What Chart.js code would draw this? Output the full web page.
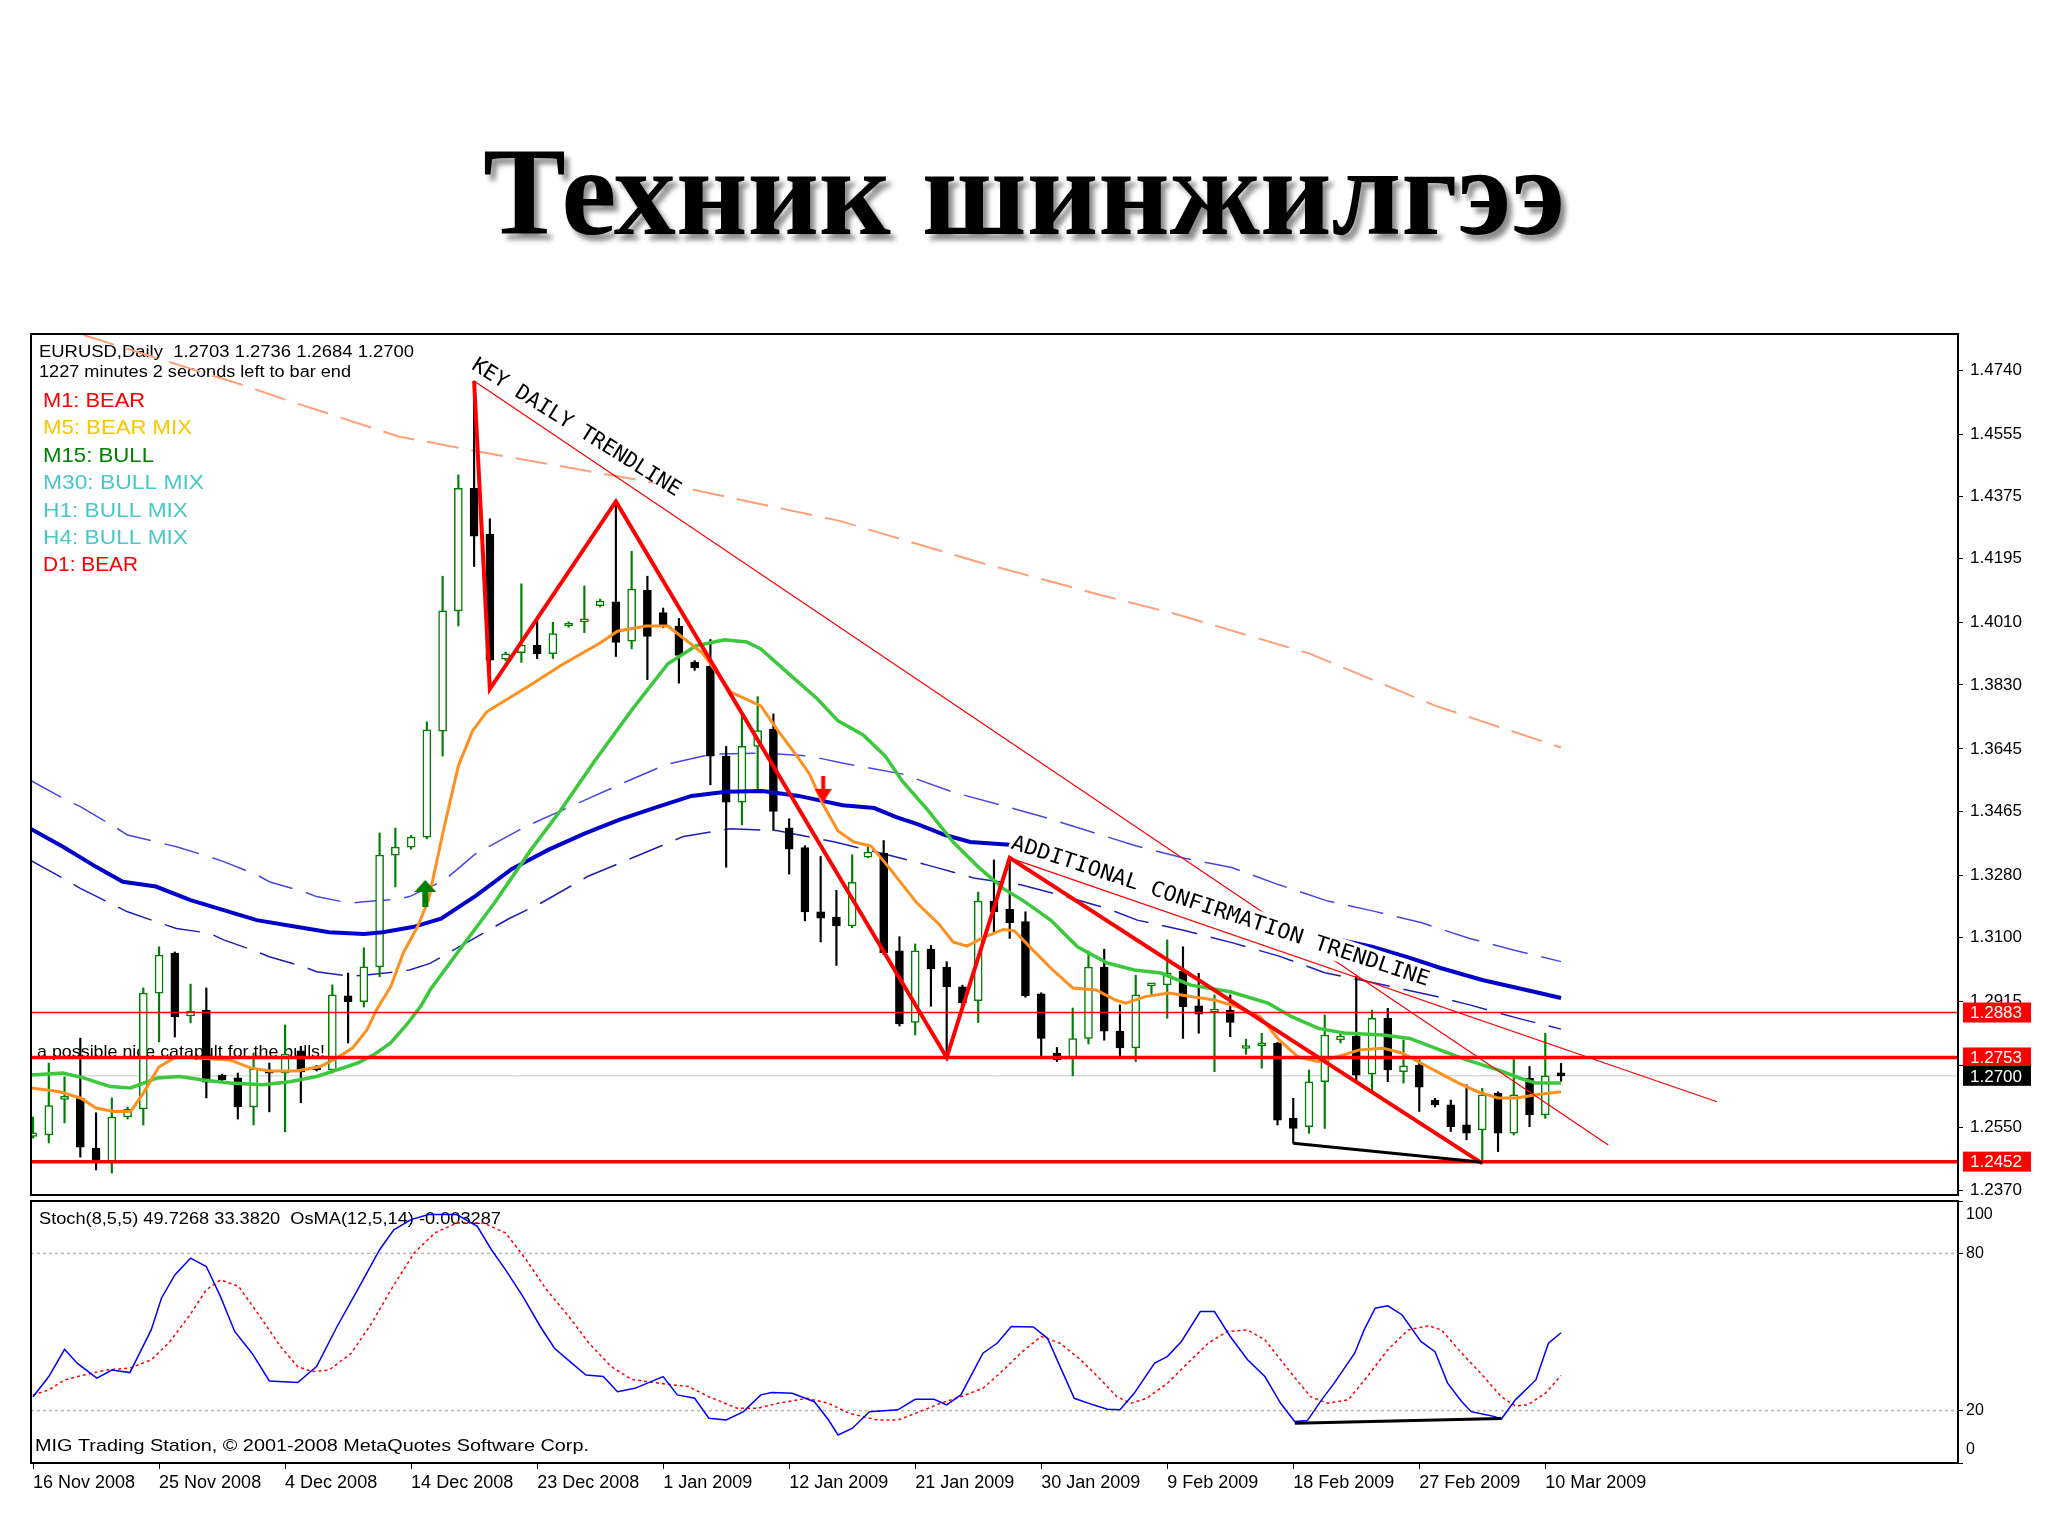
<!DOCTYPE html>
<html>
<head>
<meta charset="utf-8">
<title>Техник шинжилгээ</title>
<script src="https://cdn.jsdelivr.net/npm/chart.js"></script>
<style>
  html, body { margin: 0; padding: 0; background: #fff; }
  body { position: relative; width: 2048px; height: 1536px; overflow: hidden; }
  canvas { position: absolute; left: 0; top: 0; }
  #title {
    position: absolute; left: 483px; top: 130px;
    font: bold 125px "Liberation Serif", "Times New Roman", serif;
    line-height: 125px; white-space: nowrap; color: #000;
    transform-origin: 0 0;
    text-shadow: 5px 6px 5px rgba(0, 0, 0, 0.45);
  }
</style>
</head>
<body>
<div id="title">Техник шинжилгээ</div>
<canvas id="mainChart" width="2048" height="1536"></canvas>
<canvas id="stochChart" width="2048" height="1536"></canvas>
<script>
// ---- axis ticks ----
const priceTicks = [1.4740, 1.4555, 1.4375, 1.4195, 1.4010, 1.3830, 1.3645, 1.3465, 1.3280, 1.3100, 1.2915, 1.2730, 1.2550, 1.2370];
const dateTicks = [0, 8, 16, 24, 32, 40, 48, 56, 64, 72, 80, 88, 96];
const dateLabels = ['16 Nov 2008', '25 Nov 2008', '4 Dec 2008', '14 Dec 2008', '23 Dec 2008', '1 Jan 2009',
    '12 Jan 2009', '21 Jan 2009', '30 Jan 2009', '9 Feb 2009', '18 Feb 2009', '27 Feb 2009', '10 Mar 2009'];
const stochTicks = [0, 20, 80, 100];

// ---- EURUSD daily candles (bar 0 .. 97) ----
const open = [1.2525, 1.2529, 1.2632, 1.2636, 1.2491, 1.2451, 1.2581, 1.2604, 1.2939, 1.3055,
    1.2873, 1.2890, 1.2702, 1.2694, 1.2610, 1.2714, 1.2708, 1.2772, 1.2726, 1.2717,
    1.2931, 1.2914, 1.3015, 1.3338, 1.3361, 1.3390, 1.3696, 1.4044, 1.4398, 1.4266,
    1.3904, 1.3923, 1.3945, 1.3920, 1.4000, 1.4012, 1.4059, 1.4070, 1.3956, 1.4103,
    1.4039, 1.4000, 1.3895, 1.3884, 1.3624, 1.3491, 1.3652, 1.3702, 1.3417, 1.3360,
    1.3174, 1.3159, 1.3133, 1.3332, 1.3344, 1.3061, 1.2854, 1.3066, 1.3014, 1.2957,
    1.2917, 1.3205, 1.3181, 1.3146, 1.2937, 1.2766, 1.2751, 1.2808, 1.3014, 1.2829,
    1.2781, 1.2960, 1.2963, 1.3002, 1.2902, 1.2884, 1.2890, 1.2779, 1.2787, 1.2794,
    1.2577, 1.2553, 1.2683, 1.2804, 1.2815, 1.2705, 1.2866, 1.2712, 1.2731, 1.2629,
    1.2616, 1.2558, 1.2544, 1.2650, 1.2534, 1.2693, 1.2587, 1.2703];
const high = [1.2581, 1.2737, 1.2697, 1.2809, 1.2593, 1.2636, 1.2610, 1.2954, 1.3073, 1.3058,
    1.2965, 1.2954, 1.2705, 1.2708, 1.2766, 1.2737, 1.2847, 1.2785, 1.2730, 1.2963,
    1.2997, 1.3070, 1.3402, 1.3416, 1.3395, 1.3723, 1.4144, 1.4437, 1.4708, 1.4310,
    1.3925, 1.4122, 1.4017, 1.4011, 1.4012, 1.4116, 1.4078, 1.4360, 1.4216, 1.4144,
    1.4052, 1.4022, 1.3900, 1.3961, 1.3652, 1.3740, 1.3796, 1.3746, 1.3443, 1.3365,
    1.3334, 1.3236, 1.3339, 1.3365, 1.3380, 1.3102, 1.3081, 1.3077, 1.3030, 1.2962,
    1.3231, 1.3324, 1.3330, 1.3174, 1.2940, 1.2782, 1.2896, 1.3061, 1.3066, 1.2905,
    1.2991, 1.2967, 1.3093, 1.3073, 1.2996, 1.2934, 1.2934, 1.2806, 1.2823, 1.2797,
    1.2635, 1.2717, 1.2876, 1.2820, 1.2987, 1.2890, 1.2895, 1.2804, 1.2746, 1.2635,
    1.2630, 1.2674, 1.2664, 1.2654, 1.2749, 1.2727, 1.2823, 1.2736];
const low = [1.2520, 1.2506, 1.2564, 1.2465, 1.2428, 1.2419, 1.2575, 1.2558, 1.2798, 1.2812,
    1.2853, 1.2636, 1.2685, 1.2575, 1.2558, 1.2596, 1.2538, 1.2622, 1.2714, 1.2708,
    1.2795, 1.2899, 1.2986, 1.3246, 1.3355, 1.3385, 1.3624, 1.4000, 1.4172, 1.3818,
    1.3900, 1.3895, 1.3906, 1.3906, 1.3997, 1.3981, 1.4055, 1.3912, 1.3934, 1.3845,
    1.3995, 1.3835, 1.3872, 1.3541, 1.3303, 1.3425, 1.3530, 1.3409, 1.3283, 1.3148,
    1.3087, 1.3019, 1.3128, 1.3330, 1.3050, 1.2844, 1.2818, 1.2901, 1.2756, 1.2906,
    1.2854, 1.3112, 1.3097, 1.2927, 1.2751, 1.2741, 1.2700, 1.2792, 1.2803, 1.2752,
    1.2741, 1.2935, 1.2866, 1.2808, 1.2823, 1.2712, 1.2813, 1.2762, 1.2722, 1.2558,
    1.2505, 1.2534, 1.2548, 1.2795, 1.2683, 1.2654, 1.2683, 1.2679, 1.2597, 1.2610,
    1.2539, 1.2515, 1.2447, 1.2481, 1.2529, 1.2553, 1.2577, 1.2684];
const close = [1.2535, 1.2614, 1.2638, 1.2494, 1.2451, 1.2581, 1.2604, 1.2939, 1.3049, 1.2870,
    1.2887, 1.2682, 1.2688, 1.2610, 1.2720, 1.2708, 1.2763, 1.2711, 1.2717, 1.2934,
    1.2914, 1.3015, 1.3338, 1.3361, 1.3390, 1.3700, 1.4044, 1.4398, 1.4260, 1.3901,
    1.3920, 1.3945, 1.3920, 1.3978, 1.4008, 1.4018, 1.4072, 1.3953, 1.4107, 1.3970,
    1.4000, 1.3915, 1.3879, 1.3624, 1.3491, 1.3652, 1.3698, 1.3464, 1.3355, 1.3174,
    1.3156, 1.3133, 1.3259, 1.3347, 1.3055, 1.2850, 1.3061, 1.3009, 1.2957, 1.2911,
    1.3205, 1.3174, 1.3143, 1.2931, 1.2808, 1.2746, 1.2808, 1.3014, 1.2829, 1.2781,
    1.2934, 1.2966, 1.2998, 1.2900, 1.2878, 1.2888, 1.2854, 1.2783, 1.2791, 1.2572,
    1.2548, 1.2683, 1.2818, 1.2815, 1.2702, 1.2866, 1.2717, 1.2729, 1.2667, 1.2616,
    1.2553, 1.2534, 1.2645, 1.2534, 1.2645, 1.2587, 1.2700, 1.2700];

// ---- indicator lines: [bar, price] ----
const maOrange = [[-0.2, 1.2665], [1.7, 1.2654], [3, 1.2636], [4, 1.2607], [5.1, 1.2597], [6.2, 1.2597], [7, 1.2650],
    [8, 1.2726], [9.1, 1.2755], [12.5, 1.2746], [13.8, 1.2723], [15, 1.2714], [16.7, 1.2714], [18.2, 1.2726],
    [19.3, 1.2752], [20.3, 1.2781], [21.2, 1.2833], [21.8, 1.2890], [22.7, 1.2957], [23.5, 1.3055], [24.4, 1.3130],
    [25.1, 1.3208], [26.1, 1.3419], [27, 1.3596], [27.9, 1.3697], [28.8, 1.3752], [31.6, 1.3830], [33.5, 1.3886],
    [36, 1.3951], [37.1, 1.3985], [38.9, 1.4000], [40.3, 1.4000], [42.5, 1.3922], [44.3, 1.3809], [46.2, 1.3769],
    [47.3, 1.3697], [48.5, 1.3624], [49.3, 1.3572], [50.2, 1.3480], [51.1, 1.3408], [52.1, 1.3376], [53.2, 1.3364],
    [54.3, 1.3304], [55.2, 1.3252], [56.1, 1.3200], [57.5, 1.3139], [58.4, 1.3087], [59.3, 1.3075], [60.2, 1.3097],
    [61.6, 1.3123], [62.3, 1.3119], [63.4, 1.3067], [64.8, 1.3003], [66, 1.2954], [67.5, 1.2948], [68.7, 1.2919],
    [69.4, 1.2910], [70.6, 1.2929], [72.1, 1.2939], [73.5, 1.2929], [75, 1.2919], [76.4, 1.2900], [77.9, 1.2871],
    [79.1, 1.2804], [80.3, 1.2755], [81.6, 1.2741], [82.8, 1.2755], [84.2, 1.2775], [85.7, 1.2780], [86.9, 1.2766],
    [88.1, 1.2737], [89.3, 1.2708], [90.5, 1.2679], [91.7, 1.2654], [93, 1.2636], [94.2, 1.2636], [95.4, 1.2645],
    [97, 1.2654]];
const maGreen = [[-0.2, 1.2702], [1.9, 1.2708], [3.2, 1.2694], [4.9, 1.2669], [6.2, 1.2665], [7.9, 1.2694],
    [9.3, 1.2698], [10.8, 1.2688], [12.5, 1.2679], [14.6, 1.2674], [16.3, 1.2683], [18, 1.2698], [19.3, 1.2717],
    [20.6, 1.2737], [21.6, 1.2760], [22.7, 1.2795], [23.7, 1.2847], [24.6, 1.2900], [25.2, 1.2948], [26.6, 1.3035],
    [29.3, 1.3200], [31.6, 1.3353], [33.5, 1.3468], [35.7, 1.3613], [38, 1.3757], [40.3, 1.3891], [42.1, 1.3943],
    [43.9, 1.3960], [45.3, 1.3954], [46.2, 1.3934], [48, 1.3861], [49.8, 1.3789], [51.1, 1.3726], [52.7, 1.3685],
    [54.1, 1.3624], [55.2, 1.3551], [56.8, 1.3468], [58.4, 1.3376], [60, 1.3304], [61.6, 1.3241], [62.9, 1.3205],
    [64.6, 1.3150], [66.3, 1.3073], [68.2, 1.3026], [69.9, 1.3006], [71.6, 1.2997], [73.5, 1.2962], [76, 1.2943],
    [78.4, 1.2910], [79.9, 1.2871], [81.6, 1.2837], [83.2, 1.2824], [85.7, 1.2818], [87.4, 1.2808], [89.3, 1.2775],
    [91, 1.2746], [93, 1.2717], [94.4, 1.2693], [95.4, 1.2679], [97, 1.2679]];
const maBlue = [[-0.2, 1.3415], [1.9, 1.3362], [4, 1.3304], [5.7, 1.3261], [7.8, 1.3247], [10, 1.3208],
    [12.1, 1.3179], [14.2, 1.3150], [16.7, 1.3131], [18.8, 1.3115], [21, 1.3110], [22.2, 1.3115], [24.1, 1.3130],
    [25.9, 1.3154], [28.1, 1.3220], [30.4, 1.3298], [32.7, 1.3353], [35, 1.3400], [37.2, 1.3440], [39.5, 1.3475],
    [41.8, 1.3509], [44, 1.3521], [46.3, 1.3523], [48.6, 1.3509], [51.4, 1.3482], [53.4, 1.3474], [54.8, 1.3448],
    [56.1, 1.3428], [57.9, 1.3396], [59.5, 1.3376], [62, 1.3368], [64, 1.3343], [67, 1.3290], [70, 1.3258],
    [73, 1.3225], [76, 1.3194], [79, 1.3149], [82, 1.3102], [85, 1.3073], [87.2, 1.3044], [89.4, 1.3011],
    [92, 1.2977], [94.8, 1.2948], [97, 1.2925]];
const envUpper = [[-0.2, 1.3555], [2.1, 1.3497], [3, 1.3478], [5.1, 1.3422], [6, 1.3396], [8.1, 1.3373],
    [9.1, 1.3362], [11.2, 1.3333], [12.1, 1.3319], [14.2, 1.3281], [15, 1.3261], [17.2, 1.3232], [18, 1.3218],
    [20.1, 1.3199], [21, 1.3203], [23.1, 1.3210], [23.9, 1.3218], [26.1, 1.3265], [28.1, 1.3342], [31.2, 1.3419],
    [34.2, 1.3480], [37.2, 1.3541], [40.2, 1.3600], [43.1, 1.3630], [46.3, 1.3633], [49.3, 1.3624], [51.6, 1.3602],
    [55.2, 1.3572], [58.4, 1.3520], [61.3, 1.3484], [64.1, 1.3449], [67.1, 1.3406], [70, 1.3365], [73.1, 1.3329],
    [76.1, 1.3302], [79.1, 1.3252], [82.2, 1.3205], [85.1, 1.3176], [88.1, 1.3143], [91.2, 1.3097], [94.1, 1.3062],
    [97, 1.3030]];
const envLower = [[-0.2, 1.3324], [2.1, 1.3266], [3, 1.3242], [5.1, 1.3194], [6, 1.3174], [8.1, 1.3141],
    [9.1, 1.3126], [11.2, 1.3112], [12.1, 1.3093], [14.2, 1.3059], [15, 1.3044], [17.2, 1.3015], [18, 1.3001],
    [20.1, 1.2988], [21, 1.2991], [23.1, 1.3001], [23.9, 1.3006], [25.2, 1.3025], [30.2, 1.3154], [32.2, 1.3198],
    [35.2, 1.3276], [38.1, 1.3331], [41.3, 1.3392], [44.3, 1.3414], [47.2, 1.3409], [50.9, 1.3376], [53.8, 1.3344],
    [56.8, 1.3309], [59.7, 1.3272], [62.7, 1.3252], [65.7, 1.3216], [68.1, 1.3185], [70.1, 1.3150], [73.1, 1.3120],
    [76.1, 1.3085], [79.1, 1.3046], [82, 1.2998], [85.1, 1.2969], [89.1, 1.2929], [91.2, 1.2905], [94.3, 1.2866],
    [97, 1.2835]];
const maSlow = [[3.2, 1.4841], [13.7, 1.4691], [15.7, 1.4659], [23.2, 1.4548], [28.4, 1.4503], [35.2, 1.4448],
    [42, 1.4393], [51.2, 1.4304], [60, 1.4185], [68, 1.4087], [72.6, 1.4034], [81, 1.3921], [89, 1.3770],
    [97, 1.3649]];

// ---- drawn objects ----
const zigzag = [[28, 1.4708], [29, 1.3818], [37, 1.4360], [58, 1.2753], [62, 1.3330], [92, 1.2447]];
const keyTrend = [[28, 1.4708], [100, 1.2500]];
const confirmTrend = [[62, 1.3330], [106.9, 1.2625]];
const priceDivergence = [[80, 1.2505], [92, 1.2450]];
const levelThin = [1.2883];
const levelThick = [1.2753, 1.2452];
const lastPrice = 1.2700;
const buyArrow = [[24.9, 1.3227]];
const sellArrow = [[50.16, 1.3528]];
const signalText = ['M1: BEAR', 'M5: BEAR MIX', 'M15: BULL', 'M30: BULL MIX', 'H1: BULL MIX', 'H4: BULL MIX', 'D1: BEAR'];

// ---- Stoch(8,5,5): [bar, value] ----
const stochK = [[0, 25.3], [1, 33.0], [2, 43.4], [2.8, 38.1], [4.05, 32.4], [5, 35.5], [6.15, 34.5], [7.5, 50.8],
    [8.15, 62.9], [9, 71.8], [10, 78.2], [11, 75.0], [11.9, 63.5], [12.8, 50.2], [13.9, 41.9], [15, 31.3],
    [16.8, 30.7], [18, 36.8], [19.3, 52.1], [20.6, 66.1], [22, 81.4], [22.9, 89.0], [24, 92.9], [25.1, 94.8],
    [26.9, 94.8], [28.2, 90.3], [29.1, 81.4], [30, 73.7], [31.1, 63.5], [32.2, 52.1], [33.1, 43.8], [34.2, 38.1],
    [35.1, 33.6], [36.2, 33.0], [37.1, 27.2], [38.2, 28.5], [40, 33.0], [40.9, 26.0], [42, 24.7], [42.9, 17.1],
    [44, 16.4], [45.1, 19.6], [46.2, 26.0], [46.9, 26.9], [48.2, 26.6], [49.6, 23.4], [50.5, 16.4], [51.1, 10.7],
    [52, 13.2], [53.1, 19.6], [54.9, 20.3], [56, 24.3], [57.2, 24.3], [58, 22.2], [58.9, 26.0], [60.3, 41.9],
    [61.2, 45.7], [62.1, 52.1], [63.5, 51.9], [64.4, 47.6], [65.2, 36.8], [66.1, 24.7], [67.3, 22.2], [68.2, 20.5],
    [69, 20.3], [69.9, 26.6], [71.2, 38.1], [72, 40.6], [72.9, 46.4], [74.1, 57.8], [75, 57.8], [76, 48.3],
    [77.1, 39.4], [78.2, 33.0], [79.2, 22.8], [80.1, 15.8], [80.9, 16.2], [81.8, 24.1], [82.6, 30.5], [83.9, 41.9],
    [84.5, 50.8], [85.2, 59.1], [86, 60.0], [86.9, 56.6], [88.1, 46.4], [89, 42.5], [89.8, 30.5], [90.7, 23.4],
    [91.3, 19.6], [92, 18.7], [92.8, 17.7], [93.2, 16.7], [94.1, 24.1], [95.4, 31.7], [96.2, 45.7], [97, 49.7]];
const stochD = [[0, 26.0], [1, 27.9], [2, 31.7], [3.25, 33.6], [4.6, 35.5], [6.15, 36.2], [7.5, 39.4], [8.6, 45.7],
    [9.9, 56.0], [11, 66.1], [11.9, 69.9], [13.05, 67.4], [14.4, 56.0], [15.7, 44.5], [16.8, 36.8], [17.7, 34.9],
    [18.8, 35.5], [20.2, 41.9], [21.5, 53.4], [22.85, 67.4], [24.2, 80.2], [25.5, 87.8], [26.9, 91.6], [28.6, 91.6],
    [30, 87.8], [31.3, 77.6], [32.6, 66.1], [34, 56.0], [35.3, 45.7], [36.7, 36.8], [38, 31.9], [39.8, 30.4],
    [41.6, 29.2], [42.9, 25.3], [44.7, 20.9], [46, 20.9], [47.3, 22.8], [49.1, 24.7], [50.5, 22.8], [51.8, 19.0],
    [53.6, 16.4], [54.9, 16.4], [56.3, 19.6], [57.6, 22.8], [58.9, 25.3], [60.3, 28.5], [61.6, 35.5], [62.8, 42.5],
    [64, 48.3], [65.2, 45.7], [66.5, 39.4], [67.8, 31.7], [68.8, 25.3], [69.7, 22.8], [70.7, 24.7], [72, 30.4],
    [73.3, 38.1], [74.6, 45.7], [75.8, 50.2], [77.1, 50.8], [78.2, 47.0], [79.2, 39.4], [80.3, 31.1], [81.1, 25.3],
    [82.2, 22.8], [83.5, 24.1], [84.7, 33.0], [86, 43.2], [87.3, 50.8], [88.6, 52.4], [89.4, 50.8], [90.7, 41.9],
    [92, 33.6], [93.2, 25.3], [94.1, 21.8], [94.9, 22.2], [96, 26.6], [97, 33.4]];
const stochDivergence = [[80.1, 15.2], [93.2, 17.0]];
const stochLevels = [20, 80];

// ---- scale ranges (bar slots and price window of the panel) ----
const X_MIN = -0.13, X_MAX = 122.2;
const P_MIN = 1.235555, P_MAX = 1.484405;

Chart.defaults.font.family = '"Liberation Sans", Arial, sans-serif';
Chart.defaults.color = '#000';

const title = document.getElementById('title');
title.style.transform = 'scaleX(' + (1082 / title.getBoundingClientRect().width) + ')';

const pts = arr => arr.map(([x, y]) => ({ x, y }));
const across = v => [{ x: X_MIN, y: v }, { x: X_MAX, y: v }];

function line(data, color, width, order, dash) {
    return {
        type: 'line', data, borderColor: color, borderWidth: width, borderDash: dash || [],
        pointRadius: 0, tension: 0, fill: false, order
    };
}

// draw text squeezed/stretched to the width it has in the screenshot
function fitText(ctx, text, x, y, width, font, color, angle, boxH) {
    ctx.save();
    ctx.font = font;
    const w = ctx.measureText(text).width;
    ctx.translate(x, y);
    if (angle) {
        ctx.rotate(angle * Math.PI / 180);
        ctx.textBaseline = 'top';
    }
    if (boxH) {
        // MT4 text objects sit on a white box that hides the lines below them
        ctx.fillStyle = '#fff';
        ctx.fillRect(-2, -3, width + 4, boxH);
    }
    ctx.scale(width / w, 1);
    ctx.fillStyle = color;
    ctx.fillText(text, 0, 0);
    ctx.restore();
}

function makeArrow(color, up, w, head, shaft) {
    const c = document.createElement('canvas');
    c.width = w; c.height = 27;
    const g = c.getContext('2d');
    const m = w / 2, s = shaft / 2;
    g.fillStyle = color;
    g.beginPath();
    if (up) {
        g.moveTo(m, 0); g.lineTo(w, head); g.lineTo(m + s, head); g.lineTo(m + s, 27);
        g.lineTo(m - s, 27); g.lineTo(m - s, head); g.lineTo(0, head);
    } else {
        g.moveTo(m, 27); g.lineTo(w, 27 - head); g.lineTo(m + s, 27 - head); g.lineTo(m + s, 0);
        g.lineTo(m - s, 0); g.lineTo(m - s, 27 - head); g.lineTo(0, 27 - head);
    }
    g.closePath();
    g.fill();
    return c;
}

const isBull = close.map((c, i) => c >= open[i]);
const bodyData = open.map((o, i) => ({ x: i, y: [o, close[i]] }));
const wickData = low.map((l, i) => ({ x: i, y: [l, high[i]] }));

const mainNotes = {
    id: 'mainNotes',
    beforeDatasetsDraw(chart) {
        const ctx = chart.ctx;
        fitText(ctx, 'EURUSD,Daily  1.2703 1.2736 1.2684 1.2700', 39, 357, 375, '16px "Liberation Sans"', '#000');
        fitText(ctx, '1227 minutes 2 seconds left to bar end', 39, 377, 312, '16px "Liberation Sans"', '#000');
        const colors = ['#ff0000', '#f5c800', '#008000', '#48c8c8', '#48c8c8', '#48c8c8', '#ff0000'];
        const widths = [102, 149, 111, 161, 145, 145, 95];
        signalText.forEach((t, k) => fitText(ctx, t, 43, 407 + k * 27.4, widths[k], '21px "Liberation Sans"', colors[k]));
        fitText(ctx, 'a possible nice catapult for the bulls!', 37, 1057, 288, '17px "Liberation Sans"', '#000');
    },
    afterDatasetsDraw(chart) {
        const { ctx, scales: { x, y } } = chart;
        fitText(ctx, 'KEY DAILY TRENDLINE', x.getPixelForValue(28.31), y.getPixelForValue(1.47834),
            242, '21px "DejaVu Sans Mono"', '#000', 32, 19);
        fitText(ctx, 'ADDITIONAL CONFIRMATION TRENDLINE', x.getPixelForValue(62.34), y.getPixelForValue(1.34018),
            439, '21px "DejaVu Sans Mono"', '#000', 18.3, 24);
    },
    afterDraw(chart) {
        const { ctx, chartArea: a, scales: { y } } = chart;
        ctx.save();
        ctx.strokeStyle = '#000';
        ctx.lineWidth = 2;
        ctx.strokeRect(a.left, a.top, a.right - a.left, a.bottom - a.top);
        ctx.font = '17px "Liberation Sans"';
        ctx.textBaseline = 'middle';
        const boxes = [[levelThin[0], '#ff0000'], [levelThick[0], '#ff0000'], [lastPrice, '#000000'], [levelThick[1], '#ff0000']];
        boxes.forEach(([v, bg]) => {
            const py = y.getPixelForValue(v);
            ctx.fillStyle = bg;
            ctx.fillRect(a.right + 5, py - 10, 68, 20);
            ctx.fillStyle = '#fff';
            ctx.fillText(v.toFixed(4), a.right + 12, py + 1);
        });
        ctx.restore();
    }
};

new Chart(document.getElementById('mainChart'), {
    type: 'bar',
    data: {
        datasets: [
            line(pts(maSlow), '#ffa07a', 2, 30, [32, 13]),
            line(pts(envUpper), '#4646e6', 1.5, 29, [36, 14]),
            line(pts(envLower), '#1e1eb4', 1.5, 29, [36, 14]),
            line(across(lastPrice), '#c8c8c8', 1, 28),
            {
                type: 'bar', data: wickData, grouped: false, order: 21,
                backgroundColor: isBull.map(b => b ? '#008000' : '#000000'),
                borderWidth: 0, barThickness: 1.5
            },
            {
                type: 'bar', data: bodyData, grouped: false, order: 20,
                backgroundColor: isBull.map(b => b ? '#ffffff' : '#000000'),
                borderColor: isBull.map(b => b ? '#008000' : '#000000'),
                borderWidth: 1.5, borderSkipped: false, barThickness: 8, minBarLength: 3
            },
            line(pts(maBlue), '#0000c8', 4, 12),
            line(pts(maGreen), '#3cc83c', 3.5, 11),
            line(pts(maOrange), '#ff9020', 3, 10),
            line(across(levelThin[0]), '#ff0000', 1.5, 8),
            line(across(levelThick[0]), '#ff0000', 3.5, 8),
            line(across(levelThick[1]), '#ff0000', 3.5, 8),
            line(pts(zigzag), '#ff0000', 4, 5),
            line(pts(keyTrend), '#ff0000', 1.2, 4),
            line(pts(confirmTrend), '#ff0000', 1.2, 4),
            line(pts(priceDivergence), '#000000', 3, 3),
            {
                type: 'line', data: pts(buyArrow), showLine: false, order: 1,
                pointStyle: makeArrow('#008000', true, 22, 12, 6)
            },
            {
                type: 'line', data: pts(sellArrow), showLine: false, order: 1,
                pointStyle: makeArrow('#ff0000', false, 17, 14, 4)
            }
        ]
    },
    options: {
        responsive: false,
        animation: false,
        layout: { padding: { left: 31, top: 334, right: 0, bottom: 341 } },
        plugins: { legend: { display: false }, tooltip: { enabled: false } },
        scales: {
            x: { type: 'linear', min: X_MIN, max: X_MAX, offset: false, display: false },
            y: {
                position: 'right', min: P_MIN, max: P_MAX,
                afterBuildTicks: s => { s.ticks = priceTicks.map(v => ({ value: v })); },
                afterFit: s => { s.width = 90; },
                border: { display: false },
                grid: { drawOnChartArea: false, drawTicks: true, tickLength: 5, color: '#000' },
                ticks: { padding: 7, font: { size: 17 }, color: '#000', callback: v => v.toFixed(4) }
            }
        }
    },
    plugins: [mainNotes]
});

const stochNotes = {
    id: 'stochNotes',
    beforeDatasetsDraw(chart) {
        const ctx = chart.ctx;
        fitText(ctx, 'Stoch(8,5,5) 49.7268 33.3820  OsMA(12,5,14) -0.003287', 39, 1224, 462, '16px "Liberation Sans"', '#000');
        fitText(ctx, 'MIG Trading Station, \u00a9 2001-2008 MetaQuotes Software Corp.', 35, 1451, 554, '17px "Liberation Sans"', '#000');
    },
    afterDraw(chart) {
        const { ctx, chartArea: a, scales: { y } } = chart;
        ctx.save();
        ctx.strokeStyle = '#000';
        ctx.lineWidth = 2;
        ctx.strokeRect(a.left, a.top, a.right - a.left, a.bottom - a.top);
        ctx.fillStyle = '#000';
        ctx.font = '16px "Liberation Sans"';
        ctx.textBaseline = 'top';
        ctx.fillText('100', a.right + 8, y.getPixelForValue(100) + 6);
        ctx.textBaseline = 'bottom';
        ctx.fillText('0', a.right + 8, y.getPixelForValue(0) - 5);
        ctx.restore();
    }
};

new Chart(document.getElementById('stochChart'), {
    type: 'line',
    data: {
        datasets: [
            line(across(stochLevels[0]), '#b4b4b4', 1.5, 9, [3, 3]),
            line(across(stochLevels[1]), '#b4b4b4', 1.5, 9, [3, 3]),
            line(pts(stochD), '#ff0000', 1.5, 3, [3, 3]),
            line(pts(stochK), '#0000ff', 1.5, 2),
            line(pts(stochDivergence), '#000000', 3, 1)
        ]
    },
    options: {
        responsive: false,
        animation: false,
        layout: { padding: { left: 31, top: 1201, right: 0, bottom: 0 } },
        plugins: { legend: { display: false }, tooltip: { enabled: false } },
        scales: {
            x: {
                type: 'linear', min: X_MIN, max: X_MAX, offset: false,
                afterBuildTicks: s => { s.ticks = dateTicks.map(v => ({ value: v })); },
                afterFit: s => { s.height = 73; },
                border: { display: false },
                grid: { drawOnChartArea: false, drawTicks: true, tickLength: 6, color: '#000' },
                ticks: {
                    align: 'start', padding: 3, autoSkip: false, maxRotation: 0, minRotation: 0,
                    font: { size: 18 }, color: '#000', callback: (v, k) => dateLabels[k]
                }
            },
            y: {
                position: 'right', min: 0, max: 100,
                afterBuildTicks: s => { s.ticks = stochTicks.map(v => ({ value: v })); },
                afterFit: s => { s.width = 90; },
                border: { display: false },
                grid: { drawOnChartArea: false, drawTicks: true, tickLength: 5, color: '#000' },
                ticks: { padding: 3, font: { size: 16 }, color: '#000', callback: v => (v === 20 || v === 80) ? String(v) : '' }
            }
        }
    },
    plugins: [stochNotes]
});
</script>
</body>
</html>
